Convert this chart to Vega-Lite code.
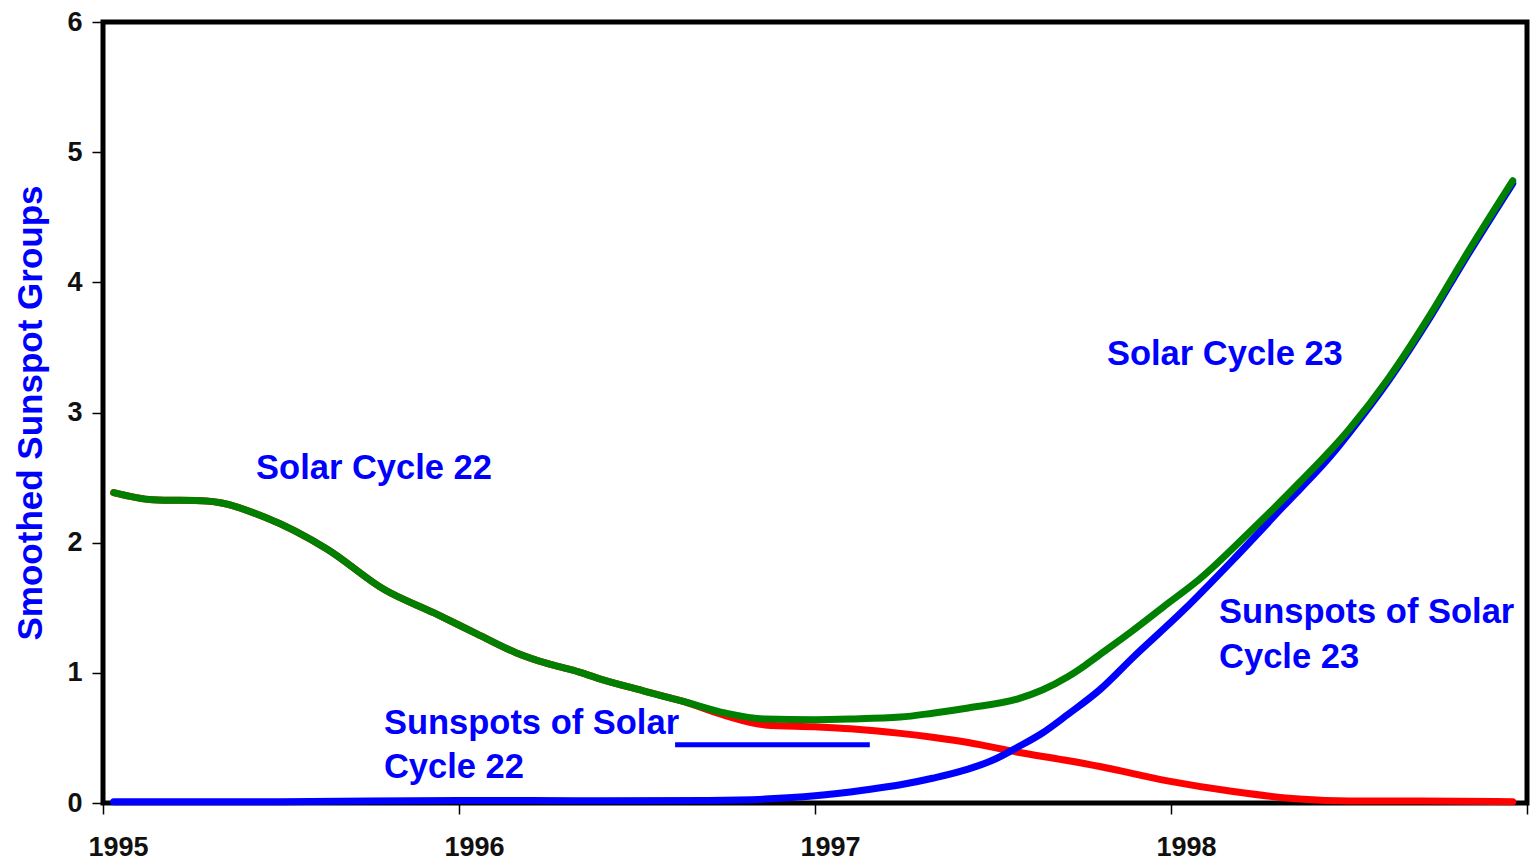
{
  "$schema": "https://vega.github.io/schema/vega-lite/v6.json",
  "width": 1424,
  "height": 781,
  "autosize": {"type": "none"},
  "padding": {"left": 103, "top": 22, "right": 3, "bottom": 59},
  "background": "white",
  "config": {
    "view": {"stroke": "black", "strokeWidth": 5},
    "axis": {
      "grid": false,
      "domain": false,
      "tickColor": "black",
      "tickWidth": 1.5,
      "tickSize": 11,
      "labelFont": "Liberation Sans",
      "labelFontWeight": "bold",
      "labelFontSize": 27,
      "labelColor": "#111111"
    }
  },
  "datasets": {
    "cycle22": [
      {"year": 1995.03, "groups": 2.385},
      {"year": 1995.14, "groups": 2.33},
      {"year": 1995.29, "groups": 2.32},
      {"year": 1995.46, "groups": 2.19},
      {"year": 1995.63, "groups": 1.95},
      {"year": 1995.79, "groups": 1.64},
      {"year": 1995.93, "groups": 1.46},
      {"year": 1996.05, "groups": 1.3},
      {"year": 1996.16, "groups": 1.155},
      {"year": 1996.25, "groups": 1.07},
      {"year": 1996.32, "groups": 1.02},
      {"year": 1996.4, "groups": 0.95},
      {"year": 1996.52, "groups": 0.86},
      {"year": 1996.63, "groups": 0.78},
      {"year": 1996.75, "groups": 0.67},
      {"year": 1996.86, "groups": 0.6},
      {"year": 1997.0, "groups": 0.585},
      {"year": 1997.1, "groups": 0.57},
      {"year": 1997.24, "groups": 0.535},
      {"year": 1997.33, "groups": 0.505},
      {"year": 1997.43, "groups": 0.465},
      {"year": 1997.57, "groups": 0.39},
      {"year": 1997.7, "groups": 0.33},
      {"year": 1997.8, "groups": 0.28},
      {"year": 1997.99, "groups": 0.17},
      {"year": 1998.17, "groups": 0.09},
      {"year": 1998.36, "groups": 0.03},
      {"year": 1998.5, "groups": 0.015},
      {"year": 1998.7, "groups": 0.015},
      {"year": 1998.96, "groups": 0.01}
    ],
    "cycle23": [
      {"year": 1995.03, "groups": 0.01},
      {"year": 1995.5, "groups": 0.01},
      {"year": 1996.0, "groups": 0.02},
      {"year": 1996.4, "groups": 0.017},
      {"year": 1996.7, "groups": 0.02},
      {"year": 1996.86, "groups": 0.03},
      {"year": 1997.0, "groups": 0.055},
      {"year": 1997.14, "groups": 0.1},
      {"year": 1997.24, "groups": 0.14},
      {"year": 1997.33, "groups": 0.19},
      {"year": 1997.43, "groups": 0.26},
      {"year": 1997.5, "groups": 0.33},
      {"year": 1997.57, "groups": 0.43},
      {"year": 1997.64, "groups": 0.54},
      {"year": 1997.71, "groups": 0.68},
      {"year": 1997.8, "groups": 0.87},
      {"year": 1997.894, "groups": 1.12},
      {"year": 1998.035, "groups": 1.48},
      {"year": 1998.175, "groups": 1.87},
      {"year": 1998.316, "groups": 2.28},
      {"year": 1998.456, "groups": 2.69},
      {"year": 1998.5, "groups": 2.84},
      {"year": 1998.61, "groups": 3.24},
      {"year": 1998.73, "groups": 3.74},
      {"year": 1998.82, "groups": 4.15},
      {"year": 1998.96, "groups": 4.76}
    ],
    "total": [
      {"year": 1995.03, "groups": 2.385},
      {"year": 1995.14, "groups": 2.33},
      {"year": 1995.29, "groups": 2.32},
      {"year": 1995.46, "groups": 2.19},
      {"year": 1995.63, "groups": 1.95},
      {"year": 1995.79, "groups": 1.64},
      {"year": 1995.93, "groups": 1.46},
      {"year": 1996.05, "groups": 1.3},
      {"year": 1996.16, "groups": 1.155},
      {"year": 1996.25, "groups": 1.07},
      {"year": 1996.32, "groups": 1.02},
      {"year": 1996.4, "groups": 0.95},
      {"year": 1996.52, "groups": 0.86},
      {"year": 1996.63, "groups": 0.78},
      {"year": 1996.75, "groups": 0.69},
      {"year": 1996.86, "groups": 0.645},
      {"year": 1997.0, "groups": 0.64},
      {"year": 1997.1, "groups": 0.645},
      {"year": 1997.24, "groups": 0.66},
      {"year": 1997.33, "groups": 0.69},
      {"year": 1997.43, "groups": 0.73},
      {"year": 1997.57, "groups": 0.8},
      {"year": 1997.64, "groups": 0.87},
      {"year": 1997.71, "groups": 0.97},
      {"year": 1997.76, "groups": 1.06},
      {"year": 1997.8, "groups": 1.14},
      {"year": 1997.89, "groups": 1.32},
      {"year": 1997.98, "groups": 1.51},
      {"year": 1998.08, "groups": 1.72},
      {"year": 1998.22, "groups": 2.08},
      {"year": 1998.36, "groups": 2.46},
      {"year": 1998.5, "groups": 2.87},
      {"year": 1998.61, "groups": 3.26},
      {"year": 1998.73, "groups": 3.76},
      {"year": 1998.82, "groups": 4.17},
      {"year": 1998.96, "groups": 4.78}
    ],
    "labels": [
      {"year": 1995.43, "groups": 2.565, "text": "Solar Cycle 22"},
      {"year": 1997.82, "groups": 3.443, "text": "Solar Cycle 23"},
      {"year": 1998.135, "groups": 1.456, "text": "Sunspots of Solar"},
      {"year": 1998.135, "groups": 1.117, "text": "Cycle 23"},
      {"year": 1995.789, "groups": 0.608, "text": "Sunspots of Solar"},
      {"year": 1995.789, "groups": 0.27, "text": "Cycle 22"}
    ],
    "underline": [
      {"start": 1996.607, "end": 1997.154, "groups": 0.447}
    ]
  },
  "encoding": {
    "x": {
      "field": "year",
      "type": "quantitative",
      "scale": {"domain": [1995, 1999], "nice": false, "zero": false},
      "axis": {
        "title": null,
        "values": [1995, 1996, 1997, 1998, 1999],
        "format": "d",
        "labelExpr": "datum.value == 1999 ? '' : datum.label",
        "labelPadding": 20,
        "labelOffset": 15,
        "labelFlush": false
      }
    },
    "y": {
      "field": "groups",
      "type": "quantitative",
      "scale": {"domain": [0, 6], "nice": false},
      "axis": {
        "title": "Smoothed Sunspot Groups",
        "titleColor": "#0000ff",
        "titleFont": "Liberation Sans",
        "titleFontWeight": "bold",
        "titleFontSize": 35,
        "titlePadding": 18,
        "values": [0, 1, 2, 3, 4, 5, 6],
        "labelPadding": 10,
        "labelFlush": false
      }
    }
  },
  "layer": [
    {
      "data": {"name": "cycle22"},
      "mark": {"type": "line", "color": "#ff0000", "strokeWidth": 7, "interpolate": "monotone", "strokeCap": "round"}
    },
    {
      "data": {"name": "cycle23"},
      "mark": {"type": "line", "color": "#0000ff", "strokeWidth": 7, "interpolate": "monotone", "strokeCap": "round"}
    },
    {
      "data": {"name": "total"},
      "mark": {"type": "line", "color": "#008000", "strokeWidth": 7, "interpolate": "monotone", "strokeCap": "round"}
    },
    {
      "data": {"name": "underline"},
      "mark": {"type": "rule", "color": "#0000ff", "strokeWidth": 5},
      "encoding": {
        "x": {"field": "start", "type": "quantitative"},
        "x2": {"field": "end"},
        "y": {"field": "groups", "type": "quantitative"}
      }
    },
    {
      "data": {"name": "labels"},
      "mark": {"type": "text", "color": "#0000ff", "font": "Liberation Sans", "fontWeight": "bold", "fontSize": 34.5, "align": "left", "baseline": "middle"},
      "encoding": {
        "text": {"field": "text"}
      }
    }
  ]
}
